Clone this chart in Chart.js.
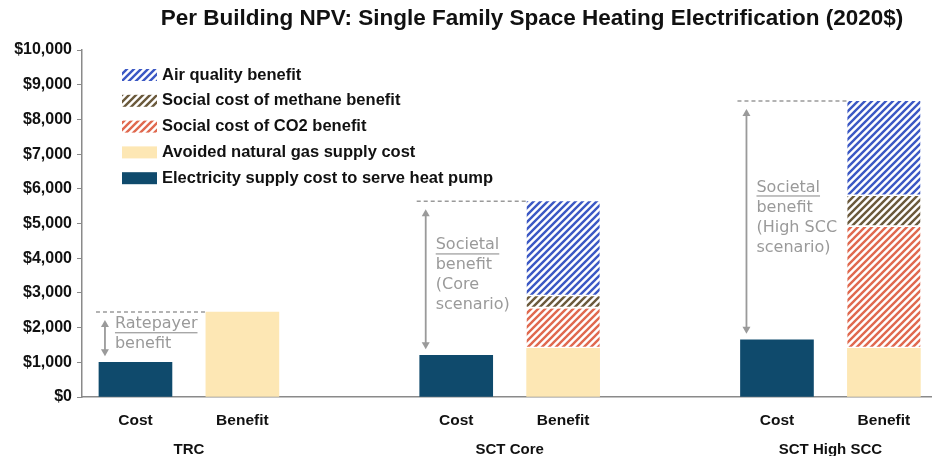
<!DOCTYPE html>
<html>
<head>
<meta charset="utf-8">
<script src="https://cdn.jsdelivr.net/npm/chart.js@4.4.0/dist/chart.umd.min.js"></script>
<style>
  html, body { margin: 0; padding: 0; background: #fff; }
</style>
</head>
<body>
<canvas id="npvChart" width="932" height="456"></canvas>
<script>
// x positions on a linear axis: two bars per group, a blank slot between groups
const barPositions = [0, 1, 3, 4, 6, 7];
const barLabels = ['Cost', 'Benefit', 'Cost', 'Benefit', 'Cost', 'Benefit'];
const groupPositions = [0.5, 3.5, 6.5];
const groupLabels = ['TRC', 'SCT Core', 'SCT High SCC'];

const costPositions = [0, 3, 6];
const benefitPositions = [1, 4, 7];

// values in 2020$ per building
const electricityCost = [1000, 1200, 1650];
const avoidedGas = [2450, 1400, 1400];
const co2Benefit = [0, 1150, 3500];
const methaneBenefit = [0, 350, 890];
const airQualityBenefit = [0, 2740, 2740];

const yTicks = [0, 1000, 2000, 3000, 4000, 5000, 6000, 7000, 8000, 9000, 10000];

const noteLines = [
  ['Ratepayer', 'benefit'],
  ['Societal', 'benefit', '(Core', 'scenario)'],
  ['Societal', 'benefit', '(High SCC', 'scenario)'],
];

const BAR_WIDTH = 73;

/**
 * Diagonal "///" hatch on white.
 * @param {string} color
 */
function hatch(color) {
  const size = 7;
  const c = document.createElement('canvas');
  c.width = size;
  c.height = size;
  const g = c.getContext('2d');
  g.fillStyle = '#fff';
  g.fillRect(0, 0, size, size);
  g.strokeStyle = color;
  g.lineWidth = 2.4;
  g.beginPath();
  g.moveTo(-1, size + 1); g.lineTo(size + 1, -1);
  g.moveTo(-1, 1); g.lineTo(1, -1);
  g.moveTo(size - 1, size + 1); g.lineTo(size + 1, size - 1);
  g.stroke();
  return g.createPattern(c, 'repeat');
}

function points(xs, ys) {
  return xs.map((x, i) => ({ x, y: ys[i] })).filter(p => p.y > 0);
}

const colors = {
  electricity: '#0f4a6c',
  gas: '#fde7b4',
  co2: hatch('#e0694f'),
  methane: hatch('#6b5a3c'),
  air: hatch('#3b58c4'),
  note: '#9a9a9a',
  axis: '#8a8a8a',
};

const hatchedBorder = { top: 0, left: 0, right: 0, bottom: 2 };

const datasets = [
  {
    label: 'Electricity supply cost to serve heat pump',
    data: points(costPositions, electricityCost),
    backgroundColor: colors.electricity,
  },
  {
    label: 'Avoided natural gas supply cost',
    data: points(benefitPositions, avoidedGas),
    backgroundColor: colors.gas,
  },
  {
    label: 'Social cost of CO2 benefit',
    data: points(benefitPositions, co2Benefit),
    backgroundColor: colors.co2,
    borderColor: '#fff',
    borderWidth: hatchedBorder,
  },
  {
    label: 'Social cost of methane benefit',
    data: points(benefitPositions, methaneBenefit),
    backgroundColor: colors.methane,
    borderColor: '#fff',
    borderWidth: hatchedBorder,
  },
  {
    label: 'Air quality benefit',
    data: points(benefitPositions, airQualityBenefit),
    backgroundColor: colors.air,
    borderColor: '#fff',
    borderWidth: hatchedBorder,
  },
].map(ds => ({ borderSkipped: false, barThickness: BAR_WIDTH, ...ds }));

const titlePlugin = {
  id: 'titleText',
  afterDraw(chart) {
    const { ctx, chartArea } = chart;
    ctx.save();
    ctx.font = 'bold 22.5px "Liberation Sans", Arial, sans-serif';
    ctx.fillStyle = '#111';
    ctx.textAlign = 'center';
    ctx.textBaseline = 'middle';
    ctx.fillText('Per Building NPV: Single Family Space Heating Electrification (2020$)',
      (chartArea.left + chartArea.right) / 2 + 25, 19);
    ctx.restore();
  },
};

const legendPlugin = {
  id: 'insideLegend',
  afterDraw(chart) {
    const { ctx, chartArea } = chart;
    const items = chart.data.datasets.slice().reverse();
    ctx.save();
    ctx.font = 'bold 16.5px "Liberation Sans", Arial, sans-serif';
    ctx.textBaseline = 'middle';
    items.forEach((ds, i) => {
      const y = chartArea.top + 25 + i * 25.8;
      const x = chartArea.left + 40;
      ctx.fillStyle = ds.backgroundColor;
      ctx.fillRect(x, y - 6, 35, 12);
      ctx.fillStyle = '#111';
      ctx.fillText(ds.label, x + 40, y);
    });
    ctx.restore();
  },
};

const notePlugin = {
  id: 'benefitNotes',
  afterDatasetsDraw(chart) {
    const { ctx } = chart;
    const xs = chart.scales.x;
    const ys = chart.scales.y;
    ctx.save();
    costPositions.forEach((pos, i) => {
      const total = avoidedGas[i] + co2Benefit[i] + methaneBenefit[i] + airQualityBenefit[i];
      const left = xs.getPixelForValue(pos) - BAR_WIDTH / 2;
      const benefitLeft = xs.getPixelForValue(benefitPositions[i]) - BAR_WIDTH / 2;
      const yTop = ys.getPixelForValue(total);
      const yCost = ys.getPixelForValue(electricityCost[i]);

      // dashed reference line at the benefit total
      ctx.strokeStyle = colors.note;
      ctx.lineWidth = 1.5;
      ctx.setLineDash([4, 3]);
      ctx.beginPath();
      ctx.moveTo(left - 3, yTop);
      ctx.lineTo(benefitLeft, yTop);
      ctx.stroke();
      ctx.setLineDash([]);

      // double headed arrow
      const ax = left + 6;
      const a0 = yTop + 8;
      const a1 = yCost - 6;
      ctx.lineWidth = 1.8;
      ctx.beginPath();
      ctx.moveTo(ax, a0 + 4);
      ctx.lineTo(ax, a1 - 4);
      ctx.stroke();
      ctx.fillStyle = colors.note;
      ctx.beginPath();
      ctx.moveTo(ax, a0); ctx.lineTo(ax - 4, a0 + 7); ctx.lineTo(ax + 4, a0 + 7);
      ctx.closePath(); ctx.fill();
      ctx.beginPath();
      ctx.moveTo(ax, a1); ctx.lineTo(ax - 4, a1 - 7); ctx.lineTo(ax + 4, a1 - 7);
      ctx.closePath(); ctx.fill();

      // note text, first line underlined
      const lines = noteLines[i];
      const lh = 20;
      const mid = (a0 + a1) / 2 - 4;
      const first = mid - (lines.length - 1) * lh / 2;
      ctx.font = '16px "DejaVu Sans", sans-serif';
      ctx.textBaseline = 'middle';
      ctx.textAlign = 'left';
      lines.forEach((line, k) => {
        const ty = first + k * lh;
        ctx.fillText(line, left + 16, ty);
        if (k === 0) {
          const w = ctx.measureText(line).width;
          ctx.fillRect(left + 16, ty + 8, w, 1.2);
        }
      });
    });
    ctx.restore();
  },
};

const labelFont = { family: '"Liberation Sans", Arial, sans-serif', size: 15.5, weight: 'bold' };

new Chart(document.getElementById('npvChart'), {
  type: 'bar',
  data: { datasets },
  plugins: [titlePlugin, legendPlugin, notePlugin],
  options: {
    responsive: false,
    devicePixelRatio: 1,
    animation: false,
    layout: { padding: { top: 50, right: 0, left: 0, bottom: 0 } },
    plugins: {
      legend: { display: false },
      title: { display: false },
      tooltip: { enabled: false },
    },
    scales: {
      x: {
        type: 'linear',
        stacked: true,
        offset: false,
        min: -0.5,
        max: 7.45,
        grid: { display: false },
        border: { display: true, color: colors.axis, width: 1.5 },
        afterBuildTicks: scale => { scale.ticks = barPositions.map(value => ({ value })); },
        afterFit: scale => { scale.height = 35; },
        ticks: {
          autoSkip: false,
          maxRotation: 0,
          padding: 6,
          color: '#111',
          font: labelFont,
          callback: value => barLabels[barPositions.indexOf(value)],
        },
      },
      x2: {
        type: 'linear',
        position: 'bottom',
        offset: false,
        min: -0.5,
        max: 7.45,
        grid: { display: false },
        border: { display: false },
        afterBuildTicks: scale => { scale.ticks = groupPositions.map(value => ({ value })); },
        afterFit: scale => { scale.height = 24; },
        ticks: {
          autoSkip: false,
          maxRotation: 0,
          padding: 1,
          color: '#111',
          font: { ...labelFont, size: 15 },
          callback: value => groupLabels[groupPositions.indexOf(value)],
        },
      },
      y: {
        stacked: true,
        min: 0,
        max: 10000,
        afterBuildTicks: scale => { scale.ticks = yTicks.map(value => ({ value })); },
        afterFit: scale => { scale.width = 82; },
        grid: { drawOnChartArea: false, drawTicks: true, tickLength: 5, color: colors.axis },
        border: { display: true, color: colors.axis, width: 1.5 },
        ticks: {
          padding: 5,
          color: '#111',
          font: { ...labelFont, size: 16 },
          callback: value => '$' + value.toLocaleString('en-US'),
        },
      },
    },
  },
});
</script>
</body>
</html>
